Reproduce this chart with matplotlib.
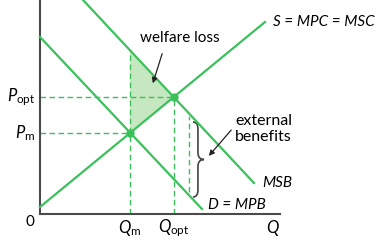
import numpy as np
import matplotlib
matplotlib.use('Agg')
import matplotlib.pyplot as plt
from matplotlib.path import Path
from matplotlib.patches import PathPatch

plt.rcParams['font.family'] = ['Lato', 'DejaVu Sans']
plt.rcParams['mathtext.fontset'] = 'custom'
plt.rcParams['mathtext.rm'] = 'Lato'
plt.rcParams['mathtext.it'] = 'Lato:italic'

# Kurven (Menge q, Preis p) - Endpunkte der Geraden
supply_q = [0, 225]
supply_p = [7, 192]
demand_q = [0, 162]
demand_p = [177, 5]
msb_q = [43, 214]
msb_p = [214, 31]

# Gleichgewichte
q_m, p_m = 90, 81
q_opt, p_opt = 134, 117
q_ext = 149          # Stelle, an der externe Nutzen gezeigt werden

green = '#3cc05c'
fill_green = '#c6e8c0'
axis_col = '#4a4a4a'

fig = plt.figure(figsize=(3.85, 2.44), dpi=100)
ax = fig.add_axes([40 / 385, 30 / 244, 240 / 385, 214 / 244])
ax.set_xlim(0, 240)
ax.set_ylim(0, 214)
ax.set_xticks([])
ax.set_yticks([])
for s in ['top', 'right']:
    ax.spines[s].set_visible(False)
for s in ['left', 'bottom']:
    ax.spines[s].set_color(axis_col)
    ax.spines[s].set_linewidth(1.5)


def ps_lin(qs, ps, q):
    m = (ps[1] - ps[0]) / (qs[1] - qs[0])
    return ps[0] + m * (q - qs[0])


# Wohlfahrtsverlust (Dreieck)
tri_q = [q_m, q_m, q_opt]
tri_p = [ps_lin(msb_q, msb_p, q_m), p_m, p_opt]
ax.fill(tri_q, tri_p, color=fill_green, lw=0, zorder=1)

# gestrichelte Hilfslinien
dash = dict(color=green, lw=1, ls=(0, (4, 2.5)), zorder=2)
ax.plot([0, q_opt], [p_opt, p_opt], **dash)
ax.plot([0, q_m], [p_m, p_m], **dash)
ax.plot([q_m, q_m], [0, ps_lin(msb_q, msb_p, q_m)], **dash)
ax.plot([q_opt, q_opt], [0, p_opt], **dash)
ax.plot([q_ext, q_ext], [ps_lin(demand_q, demand_p, q_ext) + 3,
                         ps_lin(msb_q, msb_p, q_ext) - 3], **dash)

# Kurven
ax.plot(supply_q, supply_p, color=green, lw=1.6, zorder=3, clip_on=False)
ax.plot(demand_q, demand_p, color=green, lw=1.6, zorder=3, clip_on=False)
ax.plot(msb_q, msb_p, color=green, lw=1.6, zorder=3, clip_on=False)
ax.plot([q_m, q_opt], [p_m, p_opt], 'o', color=green, ms=5, zorder=4)

# geschweifte Klammer
bx, btop, bbot, bw = 153, 92, 17, 11
bmid = (btop + bbot) / 2
xv = bx + bw * 0.45
verts = [(bx, btop), (xv, btop), (xv, btop - 7),
         (xv, bmid + 7),
         (xv, bmid), (bx + bw, bmid),
         (xv, bmid), (xv, bmid - 7),
         (xv, bbot + 7),
         (xv, bbot), (bx, bbot)]
codes = [Path.MOVETO, Path.CURVE3, Path.CURVE3, Path.LINETO,
         Path.CURVE3, Path.CURVE3, Path.CURVE3, Path.CURVE3,
         Path.LINETO, Path.CURVE3, Path.CURVE3]
ax.add_patch(PathPatch(Path(verts, codes), fc='none', ec='#444444', lw=1.2,
                       clip_on=False))

# Beschriftungen
fs = 11
ax.text(140, 176, 'welfare loss', fontsize=fs, ha='center', va='center')
ax.annotate('', xy=(112, 128), xytext=(123, 163),
            arrowprops=dict(arrowstyle='-|>', color='#222222', lw=0.9,
                            mutation_scale=8))
ax.text(195, 85, 'external\nbenefits', fontsize=fs + 0.5, ha='left',
        va='center', linespacing=1.2)
ax.annotate('', xy=(167, 56), xytext=(193, 86),
            arrowprops=dict(arrowstyle='-|>', color='#222222', lw=0.9,
                            mutation_scale=8))

ax.text(233, 192, 'S = MPC = MSC', fontsize=fs, style='italic',
        ha='left', va='center', clip_on=False)
ax.text(222, 31, 'MSB', fontsize=fs, style='italic', ha='left', va='center',
        clip_on=False)
ax.text(168, 9, 'D = MPB', fontsize=fs, style='italic', ha='left',
        va='center', clip_on=False)
ax.text(232, -14, 'Q', fontsize=fs + 1, style='italic', ha='center',
        va='center', clip_on=False)
ax.text(-10, -8, '0', fontsize=fs, ha='center', va='center', clip_on=False)
ax.text(q_m, -14, r'$Q_{\mathrm{m}}$', fontsize=fs + 1, ha='center',
        va='center', clip_on=False)
ax.text(q_opt, -14, r'$Q_{\mathrm{opt}}$', fontsize=fs + 1, ha='center',
        va='center', clip_on=False)
ax.text(-5, p_opt, r'$P_{\mathrm{opt}}$', fontsize=fs + 1, ha='right',
        va='center', clip_on=False)
ax.text(-5, p_m, r'$P_{\mathrm{m}}$', fontsize=fs + 1, ha='right',
        va='center', clip_on=False)

fig.savefig('out.png', dpi=100)
